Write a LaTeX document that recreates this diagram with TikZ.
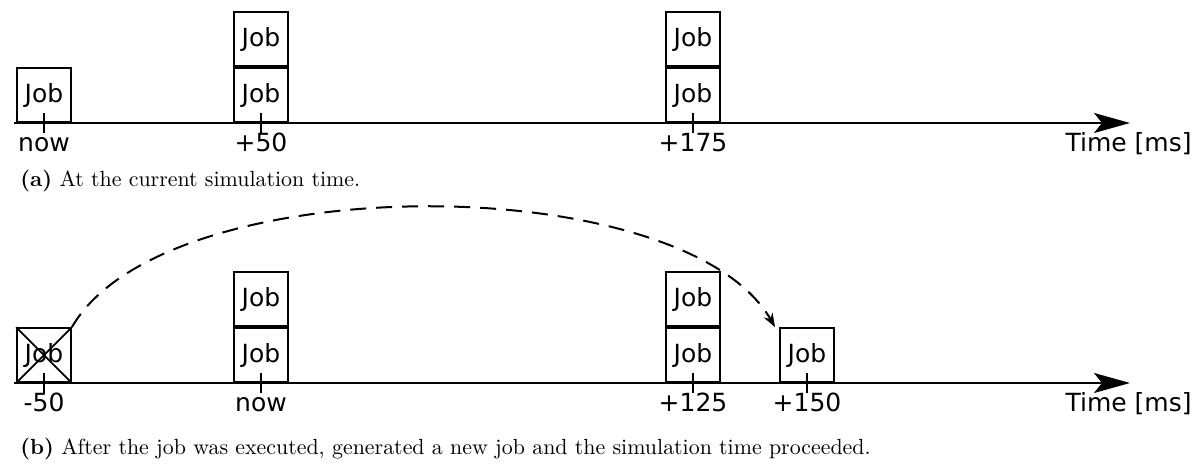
\documentclass[tikz,border=0pt]{standalone}
\usepackage{fontspec}
\newfontfamily\labelfont{DejaVu Sans}
\usetikzlibrary{arrows.meta,positioning}

\tikzset{
    job/.style={draw, line width=0.9pt, minimum width=27pt, minimum height=27pt,
        inner sep=0pt, font=\labelfont\fontsize{12.5}{15}\selectfont},
    tick/.style={line width=0.9pt},
    timeaxis/.style={line width=1pt, -{Stealth[length=18pt, width=10pt, inset=4pt]}},
    ticklabel/.style={anchor=base, inner sep=0pt, font=\labelfont\fontsize{12.5}{15}\selectfont},
    subcaption/.style={anchor=base west, inner sep=0pt, font=\fontsize{10.95}{13.6}\selectfont},
    jump/.style={line width=1pt, dash pattern=on 8pt off 5pt, -{Stealth[length=7pt, width=5pt]}},
}

\begin{document}
\begin{tikzpicture}[x=0.5pt, y=-0.5pt]
    \useasboundingbox (0, 0) rectangle (1200, 464);

    % (a) current time
    \coordinate (a0) at (14, 123);
    \coordinate (a1) at (1130, 123);
    \draw[timeaxis] (a0) -- (a1);

    \coordinate (ta1) at (44, 123);
    \coordinate (ta2) at (261, 123);
    \coordinate (ta3) at (693, 123);

    \node (ja1) [job, above=0pt of ta1] {Job};
    \node (ja2) [job, above=0pt of ta2] {Job};
    \node (ja2b) [job, above=0pt of ja2] {Job};
    \node (ja3) [job, above=0pt of ta3] {Job};
    \node (ja3b) [job, above=0pt of ja3] {Job};

    \draw[tick] ([yshift=5pt]ta1) -- ([yshift=-5pt]ta1);
    \draw[tick] ([yshift=5pt]ta2) -- ([yshift=-5pt]ta2);
    \draw[tick] ([yshift=5pt]ta3) -- ([yshift=-5pt]ta3);

    \node (la1) at (44, 152) [ticklabel] {now};
    \node (la2) at (261, 152) [ticklabel] {+50};
    \node (la3) at (693, 152) [ticklabel] {+175};
    \node (timea) at (1192, 152) [ticklabel, anchor=base east] {Time [ms]};

    \node (capa) at (20, 187) [subcaption] {\textbf{(a)} At the current simulation time.};

    % (b) after the job was executed
    \coordinate (b0) at (14, 383);
    \coordinate (b1) at (1130, 383);
    \draw[timeaxis] (b0) -- (b1);

    \coordinate (tb1) at (44, 383);
    \coordinate (tb2) at (261, 383);
    \coordinate (tb3) at (693, 383);
    \coordinate (tb4) at (807, 383);

    \node (jb1) [job, above=0pt of tb1] {Job};
    \node (jb2) [job, above=0pt of tb2] {Job};
    \node (jb2b) [job, above=0pt of jb2] {Job};
    \node (jb3) [job, above=0pt of tb3] {Job};
    \node (jb3b) [job, above=0pt of jb3] {Job};
    \node (jb4) [job, above=0pt of tb4] {Job};

    % executed job is crossed out
    \draw[tick] (jb1.south west) -- (jb1.north east);
    \draw[tick] (jb1.north west) -- (jb1.south east);

    \draw[tick] ([yshift=5pt]tb1) -- ([yshift=-5pt]tb1);
    \draw[tick] ([yshift=5pt]tb2) -- ([yshift=-5pt]tb2);
    \draw[tick] ([yshift=5pt]tb3) -- ([yshift=-5pt]tb3);
    \draw[tick] ([yshift=5pt]tb4) -- ([yshift=-5pt]tb4);

    \node (lb1) at (44, 412) [ticklabel] {-50};
    \node (lb2) at (261, 412) [ticklabel] {now};
    \node (lb3) at (693, 412) [ticklabel] {+125};
    \node (lb4) at (807, 412) [ticklabel] {+150};
    \node (timeb) at (1192, 412) [ticklabel, anchor=base east] {Time [ms]};

    \draw[jump] (jb1.north east) .. controls +(92, -160) and +(-92, -160) .. ([xshift=-2pt]jb4.north west);

    \node (capb) at (20, 455) [subcaption] {\textbf{(b)} After the job was executed, generated a new job and the simulation time proceeded.};
\end{tikzpicture}
\end{document}
